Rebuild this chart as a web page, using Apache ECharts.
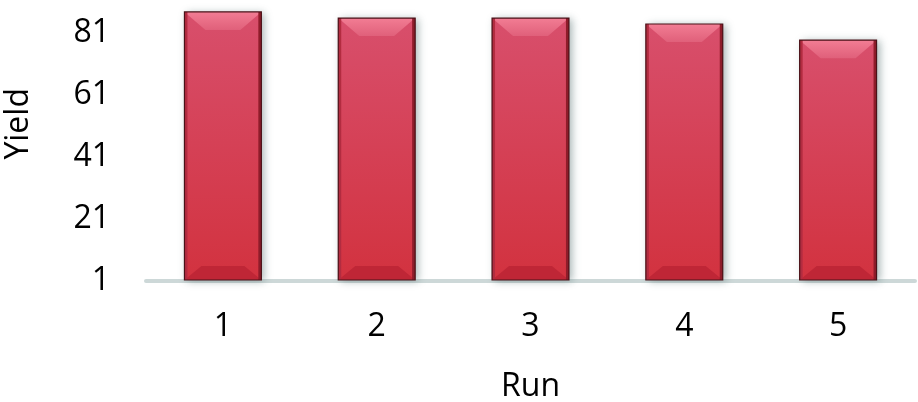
<!DOCTYPE html>
<html>
<head>
    <meta charset="utf-8">
    <title>Yield by run</title>
    <script src="https://cdn.jsdelivr.net/npm/echarts@6/dist/echarts.min.js"></script>
    <style>
        html, body { margin: 0; padding: 0; background: #fff; }
        #main { width: 918px; height: 402px; }
    </style>
</head>
<body>
<div id="main"></div>
<script>
    var runs = ['1', '2', '3', '4', '5'];
    var yields = [87.8, 85.8, 85.8, 83.9, 78.7];
    var yTicks = [1, 21, 41, 61, 81];

    var font = '"Open Sans", sans-serif';
    var myChart = echarts.init(document.getElementById('main'));

    // bar drawn as a bevelled block
    function renderBar(params, api) {
        var top = api.coord([api.value(0), api.value(1)]);
        var base = api.coord([api.value(0), yTicks[0]]);
        var w = api.size([1, 0])[0] * 0.5;
        var x0 = top[0] - w / 2, x1 = top[0] + w / 2;
        var y0 = top[1], y1 = base[1] - 1;
        var bt = 18, bb = 14, bs = 3;
        return {
            type: 'group',
            children: [
                {
                    type: 'rect',
                    shape: {x: x0, y: y0, width: w, height: y1 - y0},
                    style: {
                        fill: new echarts.graphic.LinearGradient(0, 0, 0, 1, [
                            {offset: 0, color: '#d84f6c'},
                            {offset: 1, color: '#d2323f'}
                        ]),
                        shadowBlur: 8, shadowOffsetX: 3, shadowOffsetY: 1,
                        shadowColor: 'rgba(60,90,90,0.45)'
                    }
                },
                {
                    type: 'polygon',
                    shape: {points: [[x0, y0], [x1, y0], [x1 - bs - bt, y0 + bt], [x0 + bs + bt, y0 + bt]]},
                    style: {
                        fill: new echarts.graphic.LinearGradient(0, 0, 0, 1, [
                            {offset: 0, color: '#f27d94'},
                            {offset: 1, color: '#e0607a'}
                        ])
                    }
                },
                {
                    type: 'polygon',
                    shape: {points: [[x0 + bs + bb, y1 - bb], [x1 - bs - bb, y1 - bb], [x1, y1], [x0, y1]]},
                    style: {fill: '#bf2636'}
                },
                {
                    type: 'rect',
                    shape: {x: x0, y: y0, width: bs, height: y1 - y0},
                    style: {fill: '#b22c40'}
                },
                {
                    type: 'rect',
                    shape: {x: x1 - bs, y: y0, width: bs, height: y1 - y0},
                    style: {fill: '#8e1c2a'}
                },
                {
                    type: 'rect',
                    shape: {x: x0, y: y0, width: w, height: y1 - y0},
                    style: {fill: 'none', stroke: '#4a1218', lineWidth: 1.2}
                }
            ]
        };
    }

    myChart.setOption({
        animation: false,
        grid: {left: 146, right: 3, top: 2, bottom: 121, outerBoundsMode: 'none'},
        graphic: [{
            type: 'text',
            left: 3,
            top: 88,
            rotation: Math.PI / 2,
            style: {text: 'Yield', font: '32px ' + font, fill: '#000'}
        }],
        xAxis: {
            type: 'category',
            data: runs,
            name: 'Run',
            nameLocation: 'middle',
            nameGap: 90,
            nameTextStyle: {fontFamily: font, fontSize: 32, color: '#000'},
            axisLine: {lineStyle: {color: '#cdd8d8', width: 4}},
            axisTick: {show: false},
            axisLabel: {fontFamily: font, fontSize: 32, color: '#000', margin: 30}
        },
        yAxis: {
            type: 'value',
            min: yTicks[0],
            max: 91,
            interval: yTicks[1] - yTicks[0],
            splitLine: {show: false},
            axisLine: {show: false},
            axisTick: {show: false},
            axisLabel: {fontFamily: font, fontSize: 32, color: '#000', margin: 36, showMaxLabel: false}
        },
        series: [{
            type: 'custom',
            renderItem: renderBar,
            encode: {x: 0, y: 1},
            data: runs.map(function (r, i) { return [i, yields[i]]; })
        }]
    });
</script>
</body>
</html>
